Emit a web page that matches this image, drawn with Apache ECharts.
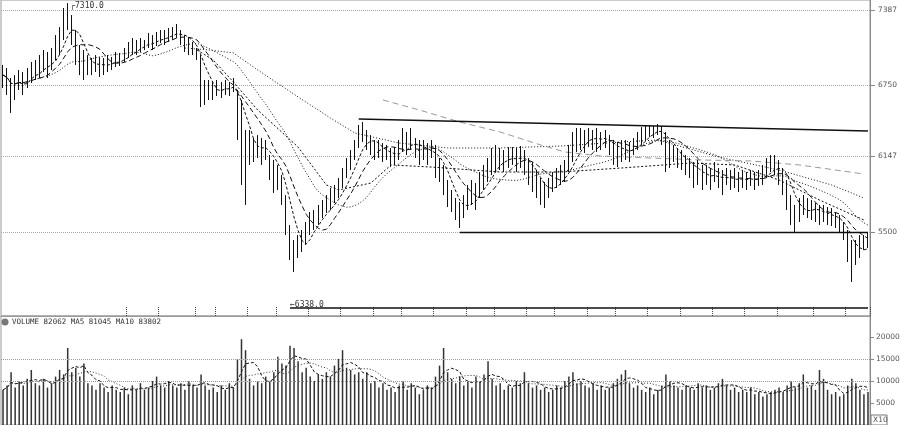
<!DOCTYPE html>
<html><head><meta charset="utf-8">
<script src="https://cdn.jsdelivr.net/npm/echarts@6/dist/echarts.min.js"></script>
<style>html,body{margin:0;padding:0;background:#fff}#c{width:900px;height:425px}</style>
</head><body><div id="c"></div>
<script>
// ---- price bars (close / high / low) ----
const closes=[6834,6792,6664,6750,6809,6775,6809,6860,6894,6877,
6945,6920,6979,7047,7149,7302,7344,7234,7047,6962,
6920,6945,6894,6920,6945,6902,6936,6945,6979,6962,
6996,7030,7090,7064,7098,7090,7132,7115,7149,7166,
7149,7183,7200,7217,7149,7115,7090,7047,7004,6750,
6664,6724,6690,6724,6707,6741,6724,6758,6537,6282,
6197,6240,6197,6240,6197,6214,6070,5984,5959,5857,
5644,5390,5279,5390,5432,5500,5585,5602,5644,5687,
5730,5772,5814,5874,5959,6044,6112,6197,6299,6350,
6282,6240,6197,6214,6154,6180,6129,6154,6197,6282,
6240,6299,6214,6180,6197,6154,6214,6112,6027,5942,
5814,5772,5687,5644,5730,5789,5840,5814,5900,5959,
6027,6095,6112,6129,6095,6129,6154,6112,6146,6095,
6027,5959,5900,5840,5814,5874,5925,5959,5984,6027,
6112,6214,6282,6299,6265,6324,6282,6308,6265,6299,
6240,6197,6154,6197,6214,6180,6240,6265,6324,6350,
6367,6350,6384,6324,6214,6154,6180,6129,6112,6070,
6044,5984,6010,5959,5984,5942,6010,5959,5925,5976,
5942,5959,5925,5959,5942,5976,5925,5959,5984,6044,
6095,6070,6010,5942,5814,5687,5602,5687,5730,5704,
5687,5670,5644,5662,5644,5619,5602,5560,5500,5390,
5245,5304,5390,5415,5432];
const highs=[6920,6894,6809,6834,6877,6860,6894,6945,6962,7004,
7047,7030,7064,7174,7242,7404,7446,7344,7217,7090,
7047,7004,6979,7004,6988,6979,7004,6988,7030,7022,
7064,7115,7149,7132,7149,7132,7192,7174,7200,7217,
7217,7234,7242,7268,7217,7174,7149,7115,7064,7004,
6792,6792,6775,6792,6775,6792,6775,6809,6707,6622,
6367,6367,6299,6324,6299,6282,6154,6112,6070,5984,
5814,5560,5432,5474,5517,5585,5670,5687,5730,5772,
5814,5874,5900,5959,6044,6129,6197,6282,6410,6435,
6367,6324,6282,6282,6256,6240,6214,6222,6282,6384,
6350,6384,6299,6282,6282,6256,6282,6240,6129,6070,
5942,5857,5789,5755,5814,5900,5942,5916,6010,6070,
6129,6214,6240,6214,6197,6222,6222,6214,6231,6197,
6129,6095,6027,5959,5925,5959,6010,6044,6070,6112,
6240,6350,6384,6384,6367,6384,6367,6384,6350,6367,
6324,6282,6265,6282,6282,6265,6299,6350,6392,6410,
6410,6401,6418,6401,6350,6282,6240,6214,6197,6154,
6129,6095,6112,6070,6070,6044,6095,6044,6027,6044,
6027,6044,6010,6027,6010,6027,6010,6027,6070,6129,
6154,6154,6112,6044,5942,5814,5730,5789,5814,5789,
5772,5746,5730,5730,5712,5704,5670,5644,5585,5517,
5432,5432,5474,5474,5500];
const lows=[6724,6664,6512,6622,6707,6664,6724,6766,6792,6809,
6860,6809,6877,6962,7004,7132,7217,7090,6920,6834,
6792,6834,6834,6860,6818,6834,6860,6877,6902,6911,
6945,6979,7004,7004,7030,7047,7064,7047,7081,7106,
7090,7115,7132,7149,7090,7030,7004,7004,6962,6562,
6580,6622,6622,6656,6639,6664,6656,6690,6282,5900,
5730,6070,6095,6129,6070,6112,5942,5832,5857,5730,
5474,5262,5160,5279,5330,5390,5474,5517,5560,5619,
5662,5687,5746,5789,5874,5959,6027,6112,6214,6265,
6197,6154,6112,6129,6095,6112,6052,6070,6112,6180,
6154,6197,6129,6070,6112,6070,6129,5959,5925,5814,
5712,5670,5602,5534,5619,5687,5730,5687,5789,5857,
5925,5984,6010,6027,6010,6044,6070,6010,6044,5984,
5900,5840,5789,5730,5704,5789,5840,5874,5900,5925,
6010,6095,6180,6197,6172,6222,6197,6180,6197,6214,
6154,6070,6052,6095,6112,6095,6154,6197,6240,6282,
6308,6299,6324,6240,6010,6044,6095,6044,6027,5984,
5959,5874,5900,5857,5900,5857,5925,5874,5814,5900,
5857,5874,5840,5874,5857,5891,5857,5891,5900,5959,
6010,5984,5900,5814,5687,5560,5492,5585,5644,5619,
5602,5585,5560,5585,5560,5551,5534,5492,5432,5245,
5075,5220,5279,5347,5364];
// ---- volume ----
const volumes=[8000,9000,12000,8500,10000,9000,10500,12500,9500,9000,
10500,8500,9500,11000,12500,11500,17500,12000,13000,11000,
14000,9500,9000,8000,9500,8500,7500,9000,8000,7500,
8500,7000,9000,8000,9500,8000,8500,10000,11000,9000,
8500,10000,9000,8500,9500,8000,10000,9000,8500,11500,
9000,8000,8500,7500,9000,8000,9500,8500,15000,19500,
17000,10500,9000,10000,9500,11000,10000,12000,15500,14000,
13500,18000,17500,14500,12000,13000,11000,10000,11500,10500,
12000,11000,13500,15000,17000,13000,12500,11500,12000,10500,
12000,9500,10000,8500,9500,8000,8500,7500,9000,10000,
8000,9500,8500,7000,8000,9000,8500,11000,13500,17500,
12000,10500,9500,11000,9000,10000,8500,11000,10000,11500,
14500,10500,9000,9500,8000,9000,8500,10000,9500,12000,
9500,8500,9000,8000,8500,7500,8000,9000,8500,10000,
11000,12000,9500,10000,9000,8500,9500,8000,9000,8000,
8500,9500,10500,11500,12500,9500,8500,9000,8000,7500,
8500,7000,8000,9000,11500,10000,9000,8500,8000,9000,
8500,8000,9500,8500,9000,8000,8500,9500,10500,9000,
8000,8500,7500,8000,7500,8500,7000,7500,6500,7000,
7500,8000,8500,7500,9000,10000,8500,9500,11500,8500,
9000,8000,12500,10500,8000,7000,7500,6500,7000,9000,
10500,9500,8000,7000,7500];
// ---- long averages: [barIndex, value] ----
const longA=[[45,7064],[51,7047],[57,7022],[63,6877],[73,6648],[81,6469],[87,6342],[98,6256],[110,6214],[123,6214],[138,6231],[153,6265],[162,6282],[177,6138],[192,6027],[205,5900],[213,5789]];
const longB=[[48,7047],[52,6962],[57,6775],[63,6537],[73,6222],[80,5900],[83,5857],[91,5916],[96,6070],[106,6052],[123,6010],[138,6010],[153,6044],[170,6086],[181,6070],[192,5942],[202,5772],[213,5602]];
const longC=[[94,6622],[103,6537],[113,6435],[123,6350],[133,6240],[139,6180],[148,6146],[160,6129],[173,6112],[185,6104],[197,6070],[213,5993]];
// ---- annotations ----
const upperTrend=[[88,6460],[214,6358]];
const supportLine=[[113,5500],[214,5500]];
const bottomLine=[[71,4854],[214,4854]];
const maxLabel='7310.0';
const bottomLabel='6338.0';
const volLegend='VOLUME 82062 MA5 81045 MA10 83802';
const priceTicks=[5500,6147,6750,7387];
const volTicks=[5000,10000,15000,20000];
const volGridLines=[10000,15000];
const xTickIdx=[31,39,48,53,61,68,76,84,92,99,107,115,122,130,137,145,152,160,168,176,184,192,201,209];

const cats=closes.map((_,i)=>i);
const candle=closes.map((c,i)=>[i?closes[i-1]:c,c,lows[i],highs[i]]);
function ma(arr,n){return arr.map((v,i)=>{const s=arr.slice(Math.max(0,i-n+1),i+1);return +(s.reduce((a,b)=>a+b,0)/s.length).toFixed(1);});}

const chart=echarts.init(document.getElementById('c'),null,{renderer:'canvas'});
const lbl={fontFamily:'DejaVu Sans',fontSize:7.5,color:'#555'};
const maLine=(data,type,color)=>({type:'line',data,xAxisIndex:0,yAxisIndex:0,showSymbol:false,symbol:'none',silent:true,
  lineStyle:{width:1,color:color||'#111',type},z:3});
chart.setOption({
  animation:false,
  backgroundColor:'#fff',
  grid:[
    {left:1,right:30,top:0,height:316,show:true,borderColor:'#999',borderWidth:1,outerBoundsMode:'none',containLabel:false},
    {left:1,right:30,top:316,bottom:0,show:true,borderColor:'#999',borderWidth:1,outerBoundsMode:'none',containLabel:false}
  ],
  xAxis:[
    {type:'category',data:cats,gridIndex:0,boundaryGap:true,
     axisLine:{lineStyle:{color:'#999'}},axisLabel:{show:false},
     axisTick:{show:true,inside:true,length:9,interval:(i)=>xTickIdx.includes(i),lineStyle:{color:'#444',type:'dotted'}},
     splitLine:{show:false}},
    {type:'category',data:cats,gridIndex:1,boundaryGap:true,axisLine:{show:false},axisLabel:{show:false},axisTick:{show:false}}
  ],
  yAxis:[
    {type:'value',gridIndex:0,position:'right',min:4786,max:7472,
     axisLine:{show:true,lineStyle:{color:'#888'}},
     axisTick:{show:true,length:5,customValues:priceTicks,lineStyle:{color:'#888'}},
     axisLabel:Object.assign({customValues:priceTicks,margin:8,formatter:v=>String(v)},lbl),
     splitLine:{show:true,lineStyle:{color:'#aaa',type:'dotted'}}},
    {type:'value',gridIndex:1,position:'right',min:0,max:24773,
     axisLine:{show:true,lineStyle:{color:'#888'}},
     axisTick:{show:true,length:4,customValues:volTicks,lineStyle:{color:'#888'}},
     axisLabel:Object.assign({customValues:volTicks,margin:6,formatter:v=>String(v)},lbl),
     splitLine:{show:false}}
  ],
  graphic:[
    {type:'circle',shape:{cx:5,cy:322,r:3.5},style:{fill:'#777'}},
    {type:'text',x:12,y:322,style:{text:volLegend,fontFamily:'DejaVu Sans Mono',fontSize:7.5,fill:'#333',verticalAlign:'middle'}},
    {type:'rect',shape:{x:871,y:415,width:16,height:10},style:{fill:'#fff',stroke:'#777',lineWidth:1}},
    {type:'text',x:873,y:420,style:{text:'X10',fontFamily:'DejaVu Sans',fontSize:7.5,fill:'#555',verticalAlign:'middle'}}
  ],
  series:[
    {type:'candlestick',data:candle,xAxisIndex:0,yAxisIndex:0,barWidth:1,silent:true,z:4,
     itemStyle:{color:'#111',color0:'#111',borderColor:'#111',borderColor0:'#111',borderWidth:1},
     markPoint:{symbol:'rect',symbolSize:[1,1],silent:true,itemStyle:{color:'rgba(0,0,0,0)'},
       data:[{type:'max',valueDim:'highest'}],
       label:{show:true,position:'right',offset:[-3,3],formatter:'\u250c'+maxLabel,fontFamily:'DejaVu Sans Mono',fontSize:8,color:'#333'}},
     markLine:{symbol:['none','none'],silent:true,animation:false,
       data:[
         [{coord:upperTrend[0],lineStyle:{width:1.6,color:'#111',type:'solid'}},{coord:upperTrend[1]}],
         [{coord:supportLine[0],lineStyle:{width:1.3,color:'#111',type:'solid'}},{coord:supportLine[1]}],
         [{coord:bottomLine[0],lineStyle:{width:1.5,color:'#111',type:'solid'},
           label:{show:true,position:'insideStartTop',distance:[0,-1],formatter:'\u2190'+bottomLabel,fontFamily:'DejaVu Sans Mono',fontSize:8,color:'#333'}},{coord:bottomLine[1]}]
       ],
       label:{show:false}}
    },
    maLine(ma(closes,5),[3,2]),
    maLine(ma(closes,10),[5,3]),
    maLine(ma(closes,20),[1,2]),
    maLine(longB,[2,2]),
    maLine(longA,[1,2]),
    maLine(longC,[6,4],'#999'),
    {type:'bar',data:volumes,xAxisIndex:1,yAxisIndex:1,barWidth:1.5,silent:true,itemStyle:{color:'#333'},
     markLine:{symbol:['none','none'],silent:true,label:{show:false},lineStyle:{color:'#999',type:'dotted',width:1},
       data:volGridLines.map(v=>({yAxis:v}))}},
    {type:'line',data:ma(volumes,5),xAxisIndex:1,yAxisIndex:1,showSymbol:false,silent:true,lineStyle:{width:1,color:'#111',type:[3,2]}},
    {type:'line',data:ma(volumes,10),xAxisIndex:1,yAxisIndex:1,showSymbol:false,silent:true,lineStyle:{width:1,color:'#333',type:[1,2]}}
  ]
});
</script></body></html>
